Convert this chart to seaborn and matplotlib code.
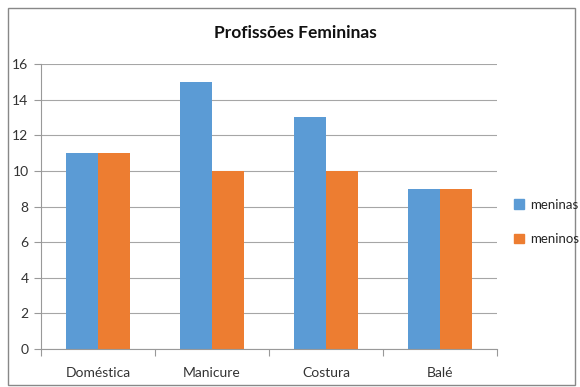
import matplotlib
matplotlib.use("Agg")
import matplotlib.pyplot as plt
import seaborn as sns
import pandas as pd
from matplotlib.patches import Rectangle, Patch

categories = ["Doméstica", "Manicure", "Costura", "Balé"]
meninas = [11, 15, 13, 9]
meninos = [11, 10, 10, 9]
series_names = ["meninas", "meninos"]
colors = ["#5B9BD5", "#ED7D31"]
yticks = [0, 2, 4, 6, 8, 10, 12, 14, 16]

df = pd.DataFrame({
    "cat": categories * 2,
    "val": meninas + meninos,
    "serie": [series_names[0]] * 4 + [series_names[1]] * 4,
})

sns.set_theme(style="white")
plt.rcParams["font.family"] = ["Lato", "DejaVu Sans"]

fig = plt.figure(figsize=(5.8, 3.87), dpi=100)
ax = fig.add_axes([41/580, 1-349/387, (497-41)/580, (349-64)/387])

sns.barplot(data=df, x="cat", y="val", hue="serie", palette=colors,
            width=0.56, ax=ax, saturation=1, legend=False, linewidth=0)

ax.set_ylim(0, 16)
ax.set_xlim(-0.5, 3.5)
ax.set_yticks(yticks)
ax.set_yticklabels([str(t) for t in yticks], fontsize=10, color="#333333")
ax.set_xticks(range(4))
ax.set_xticklabels(categories, fontsize=10, color="#333333")
ax.set_xticks([-0.5, 0.5, 1.5, 2.5, 3.5], minor=True)
ax.tick_params(axis="x", which="major", length=0, pad=13)
ax.tick_params(axis="x", which="minor", length=5, color="#999999", width=0.8, direction="out", bottom=True)
ax.tick_params(axis="y", length=5, color="#999999", width=0.8, direction="out", left=True, pad=4)
ax.set_xlabel("")
ax.set_ylabel("")
ax.yaxis.grid(True, color="#a6a6a6", linewidth=0.8)
ax.set_axisbelow(True)
for s in ["top", "right"]:
    ax.spines[s].set_visible(False)
for s in ["left", "bottom"]:
    ax.spines[s].set_color("#999999")
    ax.spines[s].set_linewidth(0.8)

fig.text(295/580, 1-33/387, "Profissões Femininas", ha="center", va="center",
         fontsize=12.5, fontweight="bold", color="#111111")

handles = [Patch(facecolor=c, edgecolor=c) for c in colors]
fig.legend(handles, series_names, loc="center left", bbox_to_anchor=(511/580, 1-222/387),
           frameon=False, fontsize=9.5, labelspacing=1.7, handlelength=0.75, handleheight=0.75,
           handletextpad=0.5, borderpad=0.2, borderaxespad=0)

fig.patches.append(Rectangle((8/580, 1-385/387), (575-8)/580, (385-8)/387,
                             transform=fig.transFigure, fill=False, edgecolor="#888888",
                             linewidth=1))

fig.savefig("out.png", dpi=100)
